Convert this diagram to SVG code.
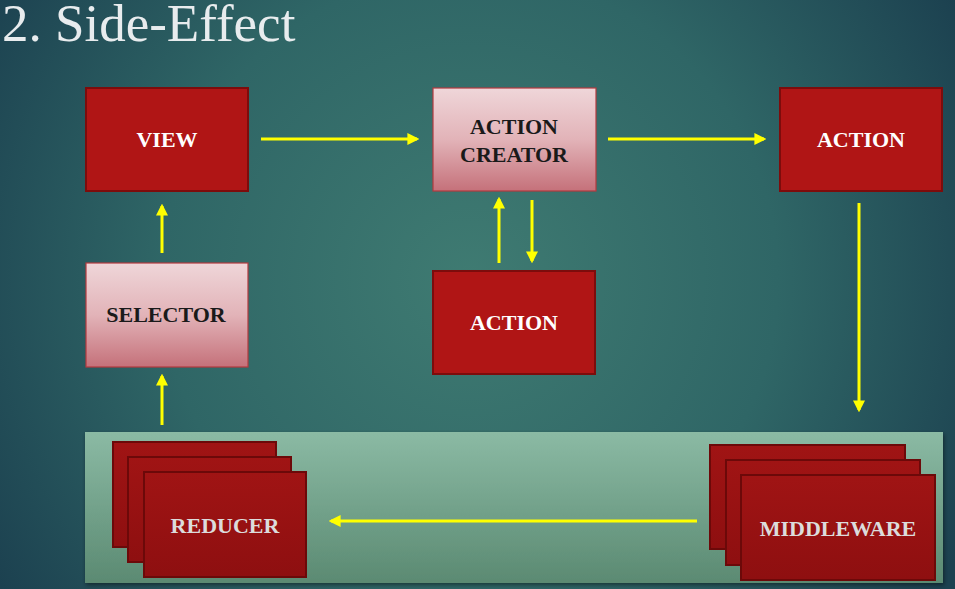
<svg xmlns="http://www.w3.org/2000/svg" width="955" height="589" viewBox="0 0 955 589">
<defs>
<radialGradient id="bg" cx="470" cy="280" r="560" gradientUnits="userSpaceOnUse">
<stop offset="0" stop-color="#3f7b72"/>
<stop offset="0.55" stop-color="#2f6666"/>
<stop offset="1" stop-color="#1c4150"/>
</radialGradient>
<linearGradient id="pink" x1="0" y1="0" x2="0" y2="1">
<stop offset="0" stop-color="#efd6d9"/>
<stop offset="0.5" stop-color="#e2b3b8"/>
<stop offset="1" stop-color="#c5717a"/>
</linearGradient>
<linearGradient id="panel" x1="0" y1="0" x2="0" y2="1">
<stop offset="0" stop-color="#8bbaa4"/>
<stop offset="1" stop-color="#5b8a72"/>
</linearGradient>
<linearGradient id="stack" x1="0" y1="0" x2="0" y2="1">
<stop offset="0" stop-color="#a01414"/>
<stop offset="1" stop-color="#8e0f10"/>
</linearGradient>
<marker id="ah" viewBox="0 0 10 10" refX="8" refY="5" markerWidth="4" markerHeight="4" orient="auto" markerUnits="strokeWidth">
<path d="M0,0 L10,5 L0,10 z" fill="#ffff00"/>
</marker>
<filter id="sh" x="-5%" y="-5%" width="110%" height="115%">
<feDropShadow dx="1" dy="2" stdDeviation="2" flood-color="#000" flood-opacity="0.45"/>
</filter>
</defs>
<style>
.red{fill:#b01515;stroke:#7d0c0c;stroke-width:2}
.pk{fill:url(#pink);stroke:#b23a3f;stroke-width:1.2}
.st{fill:url(#stack);stroke:#6c0909;stroke-width:2}
.lbl{font-family:"Liberation Serif","Times New Roman",serif;font-weight:bold;font-size:22px;text-anchor:middle}
.w{fill:#ffffff}
.k{fill:#1a1a1a}
.g{fill:#dcdcdc}
.arr{stroke:#ffff00;stroke-width:3;fill:none;marker-end:url(#ah)}
</style>
<rect x="0" y="0" width="955" height="589" fill="url(#bg)"/>
<text x="2" y="41" font-family="'Liberation Serif','Times New Roman',serif" font-size="53" fill="#e8ecee">2. Side-Effect</text>

<g id="panel-bottom">
<rect x="85" y="432" width="858" height="151" fill="url(#panel)" filter="url(#sh)"/>
</g>

<g id="view">
<rect class="red" x="86" y="88" width="162" height="103"/>
<text class="lbl w" x="167" y="147">VIEW</text>
</g>
<g id="action-creator">
<rect class="pk" x="433" y="88" width="163" height="103"/>
<text class="lbl k" x="514" y="134">ACTION</text>
<text class="lbl k" x="514" y="162">CREATOR</text>
</g>
<g id="action-right">
<rect class="red" x="780" y="88" width="162" height="103"/>
<text class="lbl w" x="861" y="147">ACTION</text>
</g>
<g id="selector">
<rect class="pk" x="86" y="263" width="162" height="104"/>
<text class="lbl k" x="166" y="322">SELECTOR</text>
</g>
<g id="action-mid">
<rect class="red" x="433" y="271" width="162" height="103"/>
<text class="lbl w" x="514" y="330">ACTION</text>
</g>
<g id="reducer">
<rect class="st" x="113" y="442" width="163" height="105"/>
<rect class="st" x="128" y="457" width="163" height="105"/>
<rect class="st" x="144" y="472" width="162" height="105"/>
<text class="lbl g" x="225" y="533">REDUCER</text>
</g>
<g id="middleware">
<rect class="st" x="710" y="445" width="195" height="104"/>
<rect class="st" x="726" y="460" width="194" height="105"/>
<rect class="st" x="741" y="475" width="194" height="105"/>
<text class="lbl g" x="838" y="536">MIDDLEWARE</text>
</g>

<g id="connectors">
<line class="arr" x1="261" y1="139" x2="417" y2="139"/>
<line class="arr" x1="608" y1="139" x2="764" y2="139"/>
<line class="arr" x1="859" y1="203" x2="859" y2="410"/>
<line class="arr" x1="697" y1="521" x2="331" y2="521"/>
<line class="arr" x1="162" y1="425" x2="162" y2="376"/>
<line class="arr" x1="162" y1="253" x2="162" y2="206"/>
<line class="arr" x1="499" y1="263" x2="499" y2="199"/>
<line class="arr" x1="532" y1="200" x2="532" y2="261"/>
</g>
</svg>
